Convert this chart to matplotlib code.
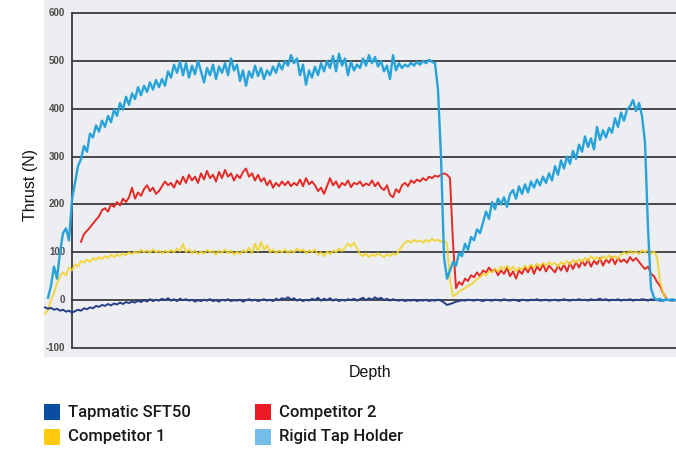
import numpy as np
import matplotlib
matplotlib.use("Agg")
import matplotlib.pyplot as plt
from matplotlib.patches import Rectangle

nan = np.nan
# Depth positions (arbitrary units), one sample every 3 units
depth = np.arange(1, 632, 3)

rigid = [
    nan, 5, 30, 70, 45, 100, 140, 150, 125, 210,
    245, 280, 295, 322, 310, 348, 340, 365, 352, 375,
    362, 385, 372, 398, 385, 412, 398, 425, 408, 432,
    420, 445, 428, 448, 435, 455, 440, 460, 445, 462,
    448, 478, 465, 492, 475, 498, 470, 495, 465, 490,
    472, 500, 478, 455, 485, 470, 492, 462, 488, 475,
    495, 470, 505, 480, 492, 458, 480, 448, 478, 465,
    490, 468, 485, 462, 480, 470, 488, 475, 495, 482,
    500, 490, 512, 495, 505, 470, 492, 450, 480, 465,
    488, 470, 495, 478, 500, 485, 510, 478, 515, 490,
    505, 470, 498, 480, 492, 485, 505, 490, 512, 495,
    508, 488, 500, 478, 490, 462, 512, 480, 495, 485,
    492, 488, 496, 490, 498, 492, 500, 495, 502, 498,
    495, 440, 300, 90, 45, 62, 80, 72, 98, 92,
    118, 105, 132, 125, 148, 140, 162, 185, 170, 205,
    190, 212, 200, 215, 195, 222, 230, 212, 238, 222,
    242, 225, 248, 235, 252, 240, 258, 245, 265, 250,
    280, 262, 292, 275, 300, 285, 312, 295, 325, 310,
    342, 320, 338, 315, 362, 335, 355, 340, 360, 350,
    380, 362, 392, 375, 398, 405, 418, 395, 412, 385,
    330, 150, 25, 5, 0, 3, -2, 2, 0, 2, 0,
]

competitor2 = [
    nan, nan, nan, nan, nan, nan, nan, nan, nan, nan,
    nan, nan, 122, 138, 145, 152, 160, 168, 175, 188,
    192, 185, 200, 195, 205, 198, 212, 205, 215, 235,
    212, 225, 218, 232, 240, 228, 235, 222, 228, 238,
    248, 240, 245, 235, 250, 242, 258, 245, 262, 250,
    258, 245, 265, 252, 270, 255, 262, 248, 268, 255,
    272, 258, 265, 250, 262, 255, 268, 275, 258, 265,
    250, 262, 248, 255, 240, 250, 235, 245, 238, 248,
    240, 248, 238, 245, 240, 252, 238, 255, 242, 248,
    240, 228, 235, 222, 238, 255, 240, 248, 235, 245,
    240, 250, 236, 245, 242, 248, 238, 244, 240, 250,
    238, 246, 235, 230, 240, 220, 215, 232, 225, 240,
    245, 238, 250, 245, 252, 248, 255, 250, 258, 255,
    260, 258, 262, 265, 262, 255, 120, 25, 38, 32,
    45, 40, 52, 48, 58, 50, 62, 58, 68, 60,
    65, 52, 62, 55, 68, 50, 60, 45, 62, 55,
    68, 58, 72, 55, 70, 62, 75, 60, 72, 65,
    58, 72, 62, 75, 60, 78, 65, 80, 68, 82,
    72, 85, 70, 82, 75, 88, 72, 85, 78, 90,
    75, 88, 80, 85, 78, 90, 82, 88, 80, 72,
    65, 70, 55, 50, 38, 30, 15, 5, nan, nan, nan,
]

competitor1 = [
    -28, -20, 0, 15, 35, 50, 58, 52, 68, 62,
    75, 70, 82, 78, 85, 80, 88, 84, 90, 86,
    92, 88, 95, 90, 96, 92, 98, 94, 100, 96,
    102, 98, 105, 100, 104, 99, 106, 100, 103, 98,
    104, 99, 105, 100, 108, 102, 118, 100, 106, 98,
    104, 96, 102, 97, 105, 100, 103, 95, 104, 99,
    106, 98, 104, 95, 102, 97, 104, 100, 110, 98,
    118, 102, 122, 105, 115, 100, 106, 98, 104, 100,
    106, 98, 104, 100, 108, 102, 106, 98, 104, 100,
    106, 95, 100, 92, 102, 96, 104, 100, 108, 102,
    110, 118, 112, 120, 108, 96, 92, 98, 90, 96,
    92, 98, 94, 90, 96, 92, 98, 95, 104, 112,
    120, 124, 120, 126, 122, 125, 120, 126, 122, 128,
    124, 126, 122, 125, 118, 40, 8, 12, 18, 22,
    25, 30, 33, 38, 44, 48, 55, 52, 60, 58,
    66, 60, 70, 64, 72, 62, 70, 60, 68, 64,
    72, 66, 74, 68, 76, 70, 78, 72, 80, 74,
    78, 70, 80, 74, 82, 75, 84, 78, 86, 80,
    88, 82, 92, 85, 90, 84, 92, 86, 94, 88,
    92, 86, 95, 100, 96, 104, 98, 102, 96, 104,
    100, 105, 98, 102, 90, 40, 15, 2, nan, nan, nan,
]

tapmatic = [
    -15, -18, -16, -20, -18, -22, -20, -24, -22, -26,
    -23, -20, -22, -17, -19, -15, -17, -12, -14, -10,
    -12, -8, -11, -7, -9, -5, -8, -4, -6, -3,
    -5, -1, -4, 0, -3, 2, -2, 1, -1, 3,
    0, 4, -1, 2, -2, 3, 0, 2, -1, 1,
    -3, 0, -2, 1, -1, 2, -2, 0, -3, 1,
    -1, 2, -2, 0, -1, 1, -3, 0, 2, -1,
    1, -2, 0, 2, -1, 1, -2, 3, 0, 4,
    2, 6, 1, 4, -1, 2, -2, 1, -1, 3,
    0, 5, -1, 3, 0, 4, -1, 2, -2, 1,
    -1, 2, 0, 3, -1, 2, 5, 0, 4, 1,
    6, 2, 5, 0, 3, -1, 2, 0, -1, 1,
    -2, 0, -1, 1, -2, 0, -1, 1, -2, 0,
    -1, 1, -1, -5, -10, -8, -6, -3, -2, 0,
    -1, 1, 0, -1, 1, 0, -2, 1, 0, -1,
    1, 0, -1, 2, 0, -1, 1, 0, -2, 1,
    0, -1, 1, 0, 2, -1, 0, 1, -1, 0,
    1, -1, 0, 2, 0, -1, 1, 0, 2, 0,
    1, -1, 2, 0, 1, 3, 0, 2, -1, 1,
    0, 2, -1, 1, 0, 2, -1, 1, 0, 2,
    1, -1, 2, 0, 1, -1, 0, 1, 0, -1, 0,
]

yticks = [600, 500, 400, 300, 200, 100, 0, -100]
series_names = ["Tapmatic SFT50", "Competitor 1", "Competitor 2", "Rigid Tap Holder"]
legend_colors = ["#0a4ea2", "#ffc90e", "#ed1c24", "#74bde8"]

W, H = 676, 450
fig = plt.figure(figsize=(W / 100, H / 100), dpi=100)
fig.patch.set_facecolor("white")
ax = fig.add_axes([44 / W, 93 / H, 632 / W, 357 / H])
ax.set_facecolor("#eceef1")
ax.set_xlim(0, 632)
ax.set_ylim(-118.75, 627.1)
for s in ax.spines.values():
    s.set_visible(False)
ax.set_xticks([])
ax.set_yticks([])

spine_x = 28
ax.hlines(yticks, spine_x - 1, 632, color="#3c3c3c", lw=1.3, zorder=1)
ax.vlines(spine_x, -100, 600, color="#3c3c3c", lw=1.3, zorder=1)
for t in yticks:
    ax.text(21, t, str(t), ha="right", va="center", fontsize=7,
            fontweight="bold", color="#4a4a4a", family="Liberation Sans")

ax.plot(depth, competitor2, color="#e42a25", lw=1.4, zorder=3)
ax.plot(depth, competitor1, color="#f3d224", lw=1.4, alpha=0.85, zorder=3)
ax.plot(depth, tapmatic, color="#243f86", lw=1.4, zorder=4)
ax.plot(depth, rigid, color="#27a3da", lw=1.7, zorder=5)

fig.text(30 / W, 1 - 185 / H, "Thrust (N)", rotation=90, ha="center", va="center",
         fontsize=11.5, family="Liberation Sans", color="#111111")
fig.text(370 / W, 1 - 372 / H, "Depth", ha="center", va="center",
         fontsize=11.5, family="Liberation Sans", color="#111111")

leg_pos = [(44, 404), (44, 429), (255, 404), (255, 429)]
for (lx, ly), name, col in zip(leg_pos, series_names, legend_colors):
    fig.add_artist(Rectangle((lx / W, 1 - (ly + 15.5) / H), 16 / W, 15.5 / H,
                             transform=fig.transFigure, color=col, lw=0))
    fig.text((lx + 24) / W, 1 - (ly + 8) / H, name, ha="left", va="center",
             fontsize=12, fontweight="medium", family="Roboto", color="#1a1718")

fig.savefig("out.png", dpi=100)
